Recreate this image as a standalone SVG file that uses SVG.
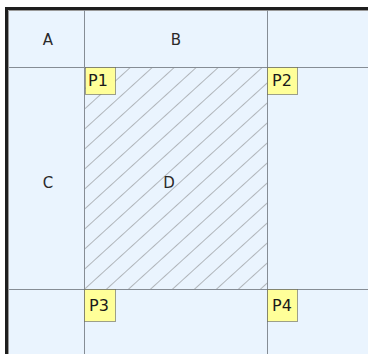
<svg xmlns="http://www.w3.org/2000/svg" width="368" height="354" viewBox="0 0 368 354">
<style>
.grid{stroke:#868d95;stroke-width:1;fill:none}
.lbl{font-family:"DejaVu Sans",Verdana,sans-serif;font-size:15px;fill:#2a2a2a;text-anchor:middle;dominant-baseline:central}
.plbl{font-family:"DejaVu Sans",Verdana,sans-serif;font-size:16px;fill:#1a1a1a;text-anchor:middle;dominant-baseline:central}
.pbox{fill:#ffff99;stroke:#444;stroke-width:1;stroke-dasharray:1 1}
</style>
<defs>
<pattern id="hatch" patternUnits="userSpaceOnUse" width="14.8" height="40" patternTransform="translate(84 289) rotate(47.7)">
<line x1="0" y1="0" x2="0" y2="40" stroke="#777" stroke-width="1"/>
</pattern>
</defs>
<rect x="0" y="0" width="368" height="354" fill="#ffffff"/>
<rect x="7" y="9" width="361" height="345" fill="#eaf4fe"/>
<g id="frame">
<path d="M6.5,354 V8.5 H368" fill="none" stroke="#1e1e1e" stroke-width="3"/>
<path d="M8.5,354 V10.5 H368" fill="none" stroke="#999" stroke-width="1"/>
</g>
<g id="region-D">
<rect x="84" y="67" width="183" height="222" fill="url(#hatch)"/>
</g>
<g id="connectors">
<line class="grid" x1="84.5" y1="10" x2="84.5" y2="354"/>
<line class="grid" x1="267.5" y1="10" x2="267.5" y2="354"/>
<line class="grid" x1="9" y1="67.5" x2="368" y2="67.5"/>
<line class="grid" x1="9" y1="289.5" x2="368" y2="289.5"/>
</g>
<g id="A"><text class="lbl" x="48" y="40">A</text></g>
<g id="B"><text class="lbl" x="176" y="40">B</text></g>
<g id="C"><text class="lbl" x="48" y="183">C</text></g>
<g id="D"><text class="lbl" x="169" y="183">D</text></g>
<g id="P1"><rect class="pbox" x="85.5" y="67.5" width="30" height="27"/><text class="plbl" x="98" y="80">P1</text></g>
<g id="P2"><rect class="pbox" x="267.5" y="67.5" width="30" height="27"/><text class="plbl" x="282" y="80">P2</text></g>
<g id="P3"><rect class="pbox" x="84.5" y="289.5" width="31" height="32"/><text class="plbl" x="99" y="305">P3</text></g>
<g id="P4"><rect class="pbox" x="267.5" y="289.5" width="30" height="32"/><text class="plbl" x="282" y="305">P4</text></g>
</svg>
